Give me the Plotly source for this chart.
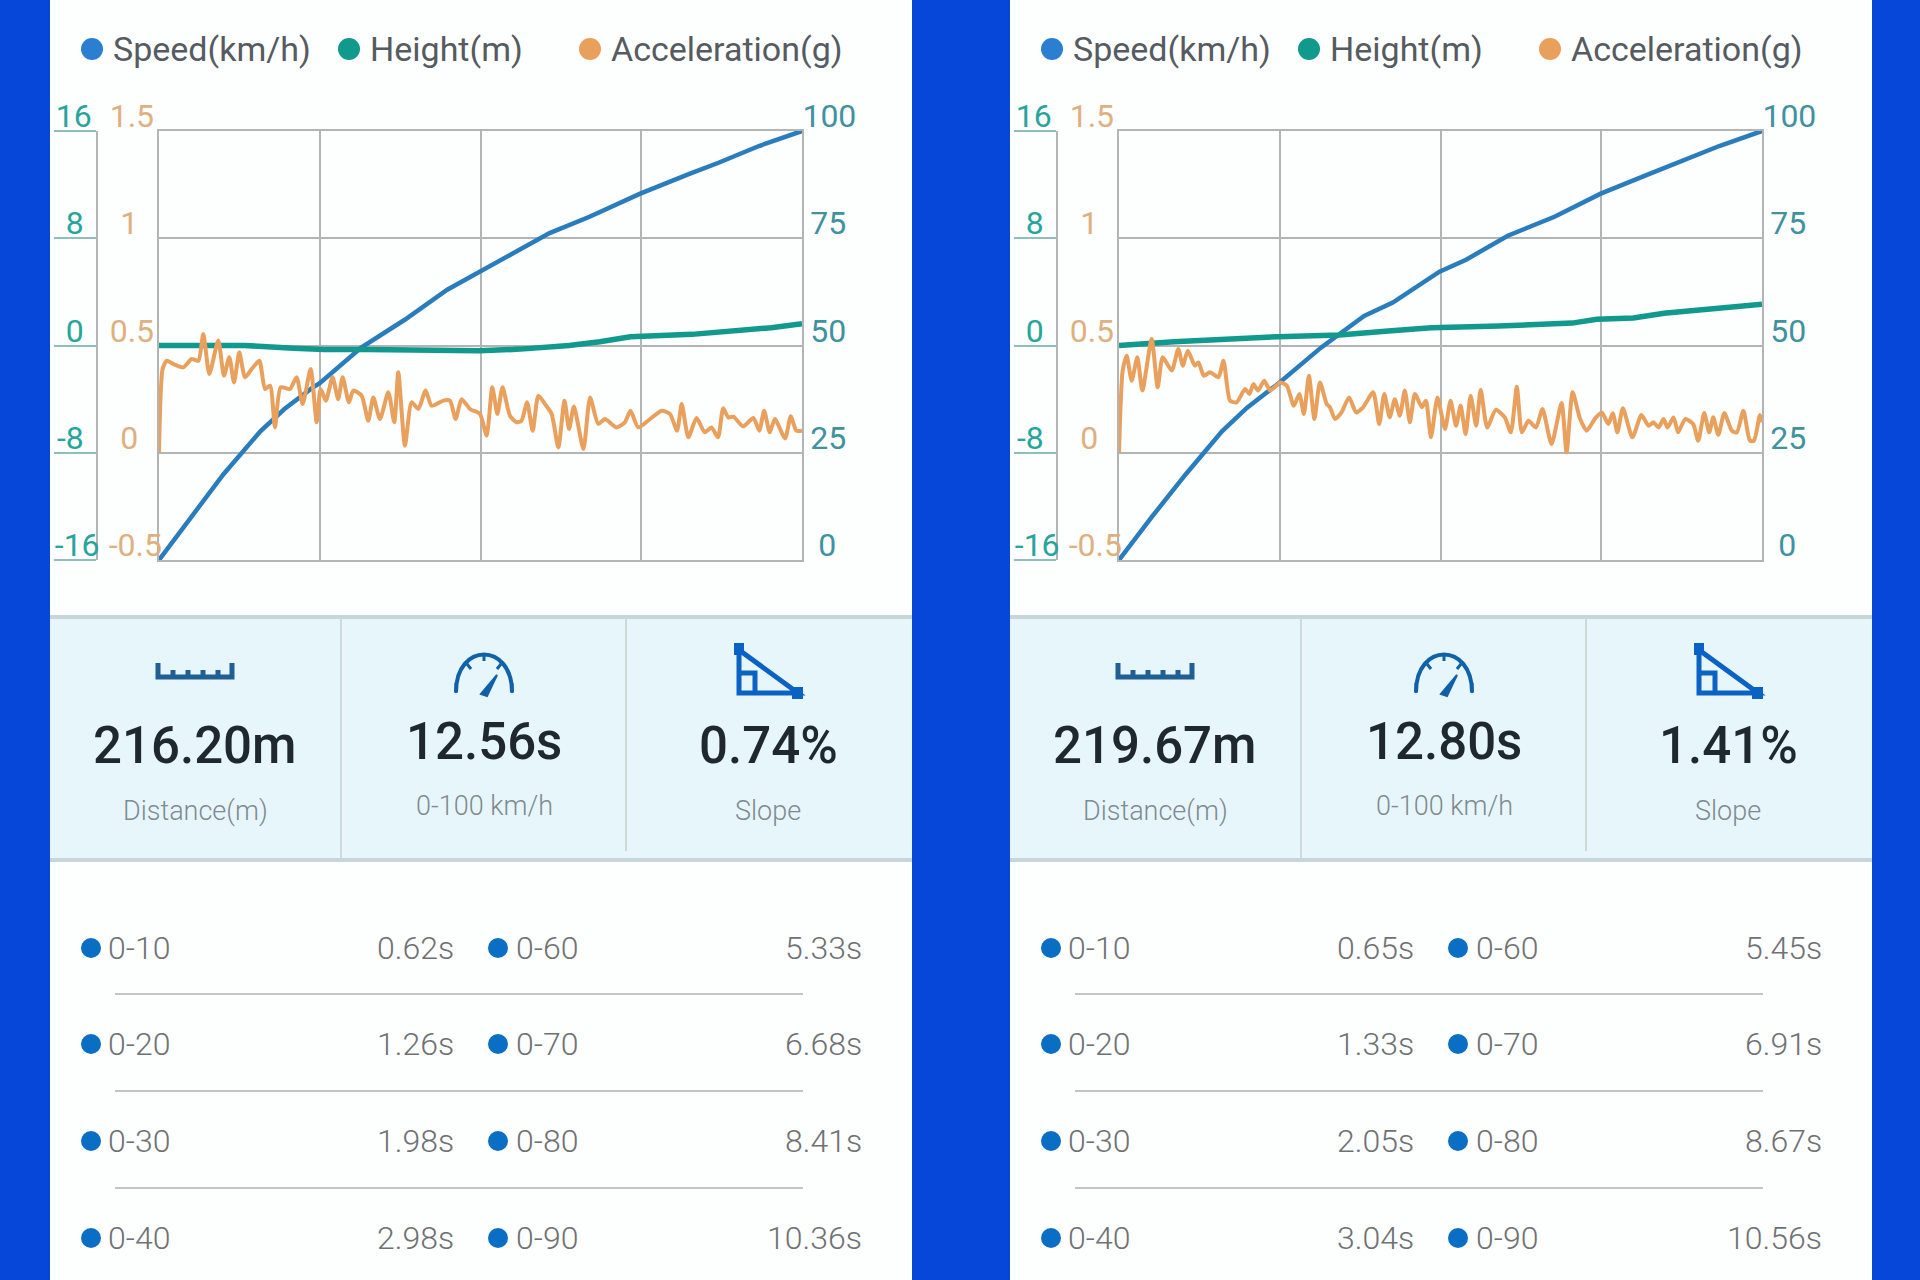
import plotly.graph_objects as go

# ---------- data ----------
speed_t_a = [0, .62, 1.26, 1.98, 2.45, 2.98, 3.14, 3.95, 4.8, 5.63, 6.28, 6.68, 7.63, 8.41, 9.4, 10.36, 10.93, 11.72, 12.56]
speed_v_a = [0, 10, 20, 30, 35.2, 40, 41.2, 49.5, 56, 63, 67.2, 70, 76.2, 80, 85.4, 90, 92.6, 96.5, 100]
speed_t_b = [0, .65, 1.33, 2.05, 2.55, 3.04, 3.18, 4.02, 4.88, 5.45, 6.38, 6.91, 7.74, 8.67, 9.59, 10.56, 11.95, 12.8]
speed_v_b = [0, 10, 20, 30, 35.5, 40, 41.2, 49.5, 56.9, 60, 67.2, 70, 75.6, 80, 85.4, 90, 96.5, 100]

height_t_a = [0, 1.67, 2.63, 3.23, 4.07, 5.26, 5.74, 6.26, 7.06, 8.01, 8.61, 9.21, 10.41, 11.24, 11.96, 12.56]
height_v_a = [0, 0, -.2, -.3, -.3, -.4, -.45, -.4, -.27, 0, .28, .65, .83, 1.09, 1.33, 1.62]
height_t_b = [0, 1.1, 3.17, 4.39, 5.36, 6.22, 7.56, 9.02, 9.51, 10.24, 10.85, 11.7, 12.8]
height_v_b = [0, .28, .66, .78, 1.08, 1.33, 1.46, 1.67, 1.96, 2.05, 2.4, 2.73, 3.08]

accel_t_a = [0, .07, .15, .28, .475, .638, .768, .866, .983, 1.158, 1.269, 1.373, 1.465, 1.569, 1.679, 1.81, 1.96, 2.07, 2.17, 2.265,
             2.376, 2.558, 2.688, 2.806, 2.962, 3.08, 3.157, 3.26, 3.39, 3.5, 3.587, 3.71, 3.795, 3.958, 4.088, 4.186, 4.316, 4.479, 4.596, 4.674,
             4.804, 4.934, 5.065, 5.208, 5.325, 5.553, 5.683, 5.794, 5.911, 6.074, 6.27, 6.4, 6.51, 6.61, 6.71, 6.855, 6.985, 7.08, 7.19, 7.3,
             7.41, 7.54, 7.67, 7.8, 7.92, 8.01, 8.105, 8.29, 8.42, 8.58, 8.71, 8.94, 9.1, 9.21, 9.36, 9.59, 9.82, 9.98, 10.12, 10.21,
             10.34, 10.5, 10.66, 10.79, 10.92, 11.02, 11.12, 11.22, 11.41, 11.61, 11.725, 11.82, 11.93, 12.03, 12.23, 12.34, 12.45, 12.56]
accel_v_a = [0, .39, .429, .414, .398, .437, .429, .554, .367, .523, .359, .445, .328, .468, .352, .39, .429, .297, .313, .118,
             .305, .297, .352, .227, .39, .142, .297, .243, .352, .25, .352, .235, .29, .266, .149, .258, .157, .282, .142, .375,
             .033, .235, .204, .29, .219, .243, .243, .157, .25, .204, .181, .08, .305, .181, .305, .173, .142, .149, .235, .103,
             .266, .227, .181, .025, .243, .111, .216, .017, .258, .134, .157, .118, .142, .196, .118, .157, .196, .181, .103, .227,
             .072, .162, .095, .118, .072, .207, .165, .168, .123, .162, .103, .196, .095, .157, .067, .17, .103, .103]
accel_t_b = [0, .073, .153, .252, .365, .465, .65, .77, .87, 1.05, 1.18, 1.27, 1.37, 1.51, 1.58, 1.69, 1.81, 1.98, 2.08, 2.21,
             2.34, 2.51, 2.595, 2.675, 2.77, 2.89, 3.01, 3.21, 3.34, 3.48, 3.59, 3.68, 3.78, 3.89, 4.0, 4.135, 4.2, 4.3, 4.43, 4.58,
             4.72, 4.86, 5.06, 5.18, 5.28, 5.39, 5.49, 5.59, 5.69, 5.79, 5.89, 6.03, 6.11, 6.21, 6.34, 6.49, 6.6, 6.71, 6.8, 6.9,
             7.0, 7.11, 7.2, 7.33, 7.5, 7.68, 7.8, 7.92, 8.02, 8.15, 8.3, 8.43, 8.61, 8.81, 8.91, 9.03, 9.18, 9.31, 9.48, 9.61,
             9.74, 9.83, 9.92, 10.03, 10.22, 10.4, 10.54, 10.64, 10.74, 10.84, 10.92, 11.04, 11.13, 11.27, 11.43, 11.53, 11.65, 11.75, 11.83, 11.93,
             12.05, 12.2, 12.3, 12.43, 12.56, 12.64, 12.76, 12.8]
accel_v_b = [0, .383, .452, .336, .445, .29, .53, .305, .445, .383, .484, .406, .476, .406, .421, .359, .375, .352, .429, .243,
             .235, .297, .274, .32, .29, .336, .29, .328, .313, .219, .274, .181, .359, .157, .328, .227, .212, .157, .188, .258,
             .188, .212, .282, .134, .274, .165, .25, .173, .29, .142, .274, .212, .243, .072, .258, .111, .243, .126, .22, .087,
             .266, .126, .294, .118, .2, .165, .095, .308, .095, .149, .118, .204, .041, .232, .002, .282, .157, .103, .16, .188,
             .134, .184, .095, .207, .072, .176, .126, .142, .118, .157, .118, .165, .095, .157, .134, .056, .185, .095, .165, .083,
             .185, .103, .095, .196, .056, .056, .176, .142]

speed_ticks = [0, 25, 50, 75, 100]
height_ticks = [-16, -8, 0, 8, 16]
accel_ticks = [-.5, 0, .5, 1, 1.5]
NB = "\u00a0"
speed_labels = [NB * 2 + "0", NB + "25", NB + "50", NB + "75", "100"]
height_labels = ["-16", "-8" + NB * 2, "0" + NB * 2, "8" + NB * 2, "16" + NB]
accel_labels = ["-0.5", "0" + NB * 3, "0.5" + NB, "1" + NB * 3, "1.5" + NB]

legend_names = ["Speed(km/h)", "Height(m)", "Acceleration(g)"]
stat_values_a = ["216.20m", "12.56s", "0.74%"]
stat_values_b = ["219.67m", "12.80s", "1.41%"]
stat_names = ["Distance(m)", "0-100 km/h", "Slope"]
split_left = ["0-10", "0-20", "0-30", "0-40"]
split_right = ["0-60", "0-70", "0-80", "0-90"]
times_left_a = ["0.62s", "1.26s", "1.98s", "2.98s"]
times_right_a = ["5.33s", "6.68s", "8.41s", "10.36s"]
times_left_b = ["0.65s", "1.33s", "2.05s", "3.04s"]
times_right_b = ["5.45s", "6.91s", "8.67s", "10.56s"]

# ---------- styling ----------
W, H = 1920, 1280
FONT = "Roboto"
BLUE = "#0646d8"
C_SPEED, C_HEIGHT, C_ACCEL = "#2a7dbd", "#12998d", "#e9a05c"
C_SPEED_TXT, C_HEIGHT_TXT, C_ACCEL_TXT = "#3f929f", "#27a59c", "#dfb07f"
GRID = "#b4b4b4"
PANEL_X = [50, 1010]
OFFSET = [0, 960]


def X(p):
    return p / W


def Y(p):
    return 1 - p / H


def rect(x0, y0, x1, y1, fill, line=None, lw=0, layer="below"):
    return dict(type="rect", xref="paper", yref="paper", x0=X(x0), x1=X(x1), y0=Y(y1), y1=Y(y0),
                fillcolor=fill, line=dict(color=line or fill, width=lw), layer=layer)


def hline(x0, x1, y, color, w):
    return dict(type="line", xref="paper", yref="paper", x0=X(x0), x1=X(x1), y0=Y(y), y1=Y(y),
                line=dict(color=color, width=w), layer="below")


def vline(x, y0, y1, color, w):
    return dict(type="line", xref="paper", yref="paper", x0=X(x), x1=X(x), y0=Y(y0), y1=Y(y1),
                line=dict(color=color, width=w), layer="below")


def dot(cx, cy, r, color):
    return dict(type="circle", xref="paper", yref="paper", x0=X(cx - r), x1=X(cx + r), y0=Y(cy + r), y1=Y(cy - r),
                fillcolor=color, line=dict(width=0), layer="above")


def path(points, color, w, fill=None):
    d = ""
    for cmd, *pts in points:
        if cmd == "L":
            for i in range(0, len(pts), 2):
                d += f"L{X(pts[i]):.5f},{Y(pts[i + 1]):.5f}"
        else:
            d += cmd + " ".join(f"{X(pts[i]):.5f},{Y(pts[i + 1]):.5f}" for i in range(0, len(pts), 2))
    return dict(type="path", xref="paper", yref="paper", path=d, line=dict(color=color, width=w),
                fillcolor=fill or "rgba(0,0,0,0)", layer="above")


def text(x, y, s, size, color, anchor="center", weight=400):
    return dict(xref="paper", yref="paper", x=X(x), y=Y(y), text=s, showarrow=False, xanchor=anchor, yanchor="middle",
                font=dict(family=FONT, size=size, color=color, weight=weight))


shapes, annots = [], []
fig = go.Figure()
layout = {}

PL, PR, PT, PB = 159, 802, 131, 560
DATA = [
    (speed_t_a, speed_v_a, height_t_a, height_v_a, accel_t_a, accel_v_a, 12.56, stat_values_a, times_left_a, times_right_a),
    (speed_t_b, speed_v_b, height_t_b, height_v_b, accel_t_b, accel_v_b, 12.80, stat_values_b, times_left_b, times_right_b),
]

for k, (st, sv, ht, hv, at, av, tmax, stats, tl, tr) in enumerate(DATA):
    o = OFFSET[k]
    # panel backgrounds
    shapes.append(rect(PANEL_X[k], 0, PANEL_X[k] + 862, H, "#fdfefe"))
    shapes.append(rect(PANEL_X[k], 617, PANEL_X[k] + 862, 860, "#e7f6fb"))
    shapes.append(hline(PANEL_X[k], PANEL_X[k] + 862, 617, "#c6d6da", 4))
    shapes.append(hline(PANEL_X[k], PANEL_X[k] + 862, 860, "#c6d6da", 4))
    shapes.append(vline(341 + o, 618, 858, "#cfd9dc", 2))
    shapes.append(vline(626 + o, 618, 851, "#cfd9dc", 2))

    # axes
    xn = "xaxis" if k == 0 else "xaxis2"
    xa = "x" if k == 0 else "x2"
    y1, y2, y3 = 3 * k + 1, 3 * k + 2, 3 * k + 3
    ya = [f"y{n}" if n > 1 else "y" for n in (y1, y2, y3)]
    yn = [f"yaxis{n}" if n > 1 else "yaxis" for n in (y1, y2, y3)]
    dom_y = [Y(PB), Y(PT)]
    layout[xn] = dict(domain=[X(PL + o), X(PR + o)], range=[0, tmax], anchor=ya[0],
                      tickmode="array", tickvals=[tmax * f for f in (0, .25, .5, .75, 1)],
                      showticklabels=False, ticks="", showgrid=True, gridcolor=GRID, gridwidth=2,
                      showline=True, linecolor=GRID, linewidth=2, mirror=True, zeroline=False)
    layout[yn[0]] = dict(domain=dom_y, range=[0, 100], anchor=xa, side="right",
                         tickmode="array", tickvals=speed_ticks, ticktext=speed_labels, ticks="",
                         ticklabelshift=-15, ticklabelstandoff=-8,
                         tickfont=dict(family=FONT, size=32, color=C_SPEED_TXT),
                         showgrid=True, gridcolor=GRID, gridwidth=2, zeroline=False,
                         showline=True, linecolor=GRID, linewidth=2, mirror=True)
    layout[yn[1]] = dict(domain=dom_y, range=[-16, 16], overlaying=ya[0], anchor="free", position=X(97 + o), side="left",
                         tickmode="array", tickvals=height_ticks, ticktext=height_labels, ticks="outside", ticklen=42,
                         tickcolor="#8fbfba", tickwidth=2, ticklabelshift=-15, ticklabelstandoff=-52,
                         tickfont=dict(family=FONT, size=32, color=C_HEIGHT_TXT),
                         showgrid=False, zeroline=False, showline=True, linecolor=GRID, linewidth=2)
    layout[yn[2]] = dict(domain=dom_y, range=[-.5, 1.5], overlaying=ya[0], anchor="free", position=X(PL + o), side="left",
                         tickmode="array", tickvals=accel_ticks, ticktext=accel_labels, ticks="",
                         ticklabelshift=-15, ticklabelstandoff=-3,
                         tickfont=dict(family=FONT, size=32, color=C_ACCEL_TXT),
                         showgrid=False, zeroline=False, showline=False)

    # data
    fig.add_trace(go.Scatter(x=at, y=av, xaxis=xa, yaxis=ya[2], mode="lines", name=legend_names[2],
                             line=dict(color=C_ACCEL, width=4, shape="spline", smoothing=0.6), showlegend=False))
    fig.add_trace(go.Scatter(x=ht, y=hv, xaxis=xa, yaxis=ya[1], mode="lines", name=legend_names[1],
                             line=dict(color=C_HEIGHT, width=5.5), showlegend=False))
    fig.add_trace(go.Scatter(x=st, y=sv, xaxis=xa, yaxis=ya[0], mode="lines", name=legend_names[0],
                             line=dict(color=C_SPEED, width=4.5), showlegend=False))

    # legend
    for cx, tx, name, col in zip((92, 349, 590), (111, 368, 609), legend_names, ("#2b7fd0", C_HEIGHT, C_ACCEL)):
        shapes.append(dot(cx + o, 49, 11, col))
        annots.append(text(tx + o, 49, name, 34, "#555b60", "left"))

    # stat panel
    for cx, cy, cy2, val, name in zip((195, 484, 768), (745, 741, 745), (811, 806, 811), stats, stat_names):
        annots.append(text(cx + o, cy, val, 51, "#1f282e", weight=500))
        annots.append(text(cx + o, cy2, name, 27, "#7f8a90", weight=300))

    # ruler icon
    shapes.append(path([("M", 158 + o, 663), ("L", 158 + o, 677, 232 + o, 677, 232 + o, 663),
                        ("M", 173 + o, 670), ("L", 173 + o, 677), ("M", 188 + o, 670), ("L", 188 + o, 677),
                        ("M", 203 + o, 670), ("L", 203 + o, 677), ("M", 218 + o, 670), ("L", 218 + o, 677)], "#1f5f96", 5))
    # gauge icon
    shapes.append(path([("M", 456 + o, 692), ("C", 456 + o, 642, 512 + o, 642, 512 + o, 692)], "#0f62a8", 4))
    shapes.append(path([("M", 456 + o, 683), ("L", 456 + o, 693), ("M", 512 + o, 683), ("L", 512 + o, 693),
                        ("M", 467 + o, 664), ("L", 471 + o, 669), ("M", 484 + o, 655), ("L", 484 + o, 661),
                        ("M", 501 + o, 664), ("L", 497 + o, 669)], "#0f62a8", 3))
    shapes.append(path([("M", 481 + o, 694), ("L", 497 + o, 675), ("L", 487 + o, 696), ("Z",)], "#0f62a8", 2, "#0f62a8"))
    # slope icon
    shapes.append(path([("M", 739 + o, 650), ("L", 739 + o, 693, 798 + o, 693, 739 + o, 650), ("Z",),
                        ("M", 741 + o, 673), ("L", 755 + o, 673, 755 + o, 691)], "#0a63c4", 5))
    shapes.append(rect(734 + o, 643, 744 + o, 655, "#0a63c4", layer="above"))
    shapes.append(rect(792 + o, 687, 803 + o, 699, "#0a63c4", layer="above"))

    # split list
    for i, cy in enumerate((948, 1044, 1141, 1238)):
        shapes.append(dot(91 + o, cy, 10, "#0a6fc4"))
        shapes.append(dot(498 + o, cy, 10, "#0a6fc4"))
        annots.append(text(106 + o, cy, split_left[i], 32, "#6f7173", "left", 300))
        annots.append(text(514 + o, cy, split_right[i], 32, "#6f7173", "left", 300))
        annots.append(text(456 + o, cy, tl[i], 32, "#6f7173", "right", 300))
        annots.append(text(864 + o, cy, tr[i], 32, "#6f7173", "right", 300))
    for cy in (994, 1091, 1188):
        shapes.append(hline(115 + o, 803 + o, cy, "#c2c4c5", 2))

fig.update_layout(width=W, height=H, margin=dict(l=0, r=0, t=0, b=0, autoexpand=False), autosize=False,
                  paper_bgcolor=BLUE, plot_bgcolor="rgba(0,0,0,0)", showlegend=False,
                  shapes=shapes, annotations=annots, **layout)
fig.write_html("out.html", config=dict(displayModeBar=False),
               post_script="document.body.style.margin='0';document.body.style.overflow='hidden';")
